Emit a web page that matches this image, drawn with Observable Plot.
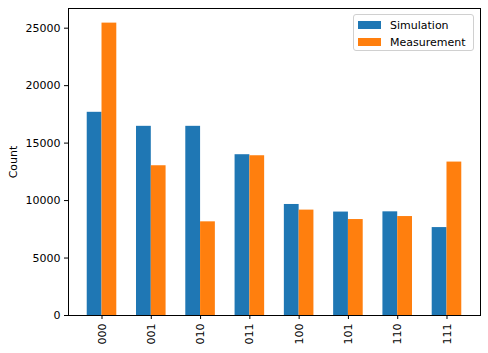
<!DOCTYPE html>
<html>
<head>
<meta charset="utf-8">
<script src="https://cdn.jsdelivr.net/npm/d3@7"></script>
<script src="https://cdn.jsdelivr.net/npm/@observablehq/plot@0.6"></script>
<style>
  html, body { margin: 0; padding: 0; background: #fff; }
  #wrap { position: relative; width: 488px; height: 353px; font-family: "DejaVu Sans", sans-serif; }
  #legend { position: absolute; left: 353px; top: 14px; width: 119px; height: 35px;
    border: 1px solid #d0d0d0; border-radius: 3px; background: rgba(255,255,255,0.8);
    font-size: 11px; color: #000; }
  .item { position: absolute; left: 4px; height: 12px; display: flex; align-items: center; }
  .patch { width: 23px; height: 8px; margin-right: 9px; }
</style>
</head>
<body>
<div id="wrap"></div>
<script>
const categories = ["000", "001", "010", "011", "100", "101", "110", "111"];
const simulation = [17680, 16460, 16460, 13990, 9660, 9000, 9020, 7650];
const measurement = [25440, 13030, 8150, 13900, 9170, 8350, 8610, 13350];
const series = ["Simulation", "Measurement"];
const colors = ["#1f77b4", "#ff7f0e"];
const yTicks = [0, 5000, 10000, 15000, 20000, 25000];

const barWidth = 0.3;
const rows = [];
categories.forEach((c, i) => {
  rows.push({cat: c, series: series[0], value: simulation[i], x1: i - barWidth, x2: i});
  rows.push({cat: c, series: series[1], value: measurement[i], x1: i, x2: i + barWidth});
});

const xMin = -barWidth, xMax = categories.length - 1 + barWidth;
const xPad = (xMax - xMin) * 0.05;
const yMax = d3.max(rows, d => d.value) * 1.05;

const chart = Plot.plot({
  width: 488,
  height: 353,
  marginLeft: 68,
  marginRight: 8,
  marginTop: 8,
  marginBottom: 38,
  style: {fontFamily: "DejaVu Sans, sans-serif", fontSize: "11px", color: "#000", background: "#fff"},
  x: {
    type: "linear",
    domain: [xMin - xPad, xMax + xPad],
    ticks: d3.range(categories.length),
    tickFormat: i => categories[i],
    tickRotate: -90,
    tickSize: 4,
    tickPadding: 4,
    label: null
  },
  y: {
    domain: [0, yMax],
    ticks: yTicks,
    tickFormat: d => String(d),
    tickSize: 4,
    tickPadding: 4,
    label: "Count",
    labelArrow: "none",
    labelAnchor: "center",
    labelOffset: 59
  },
  color: {domain: series, range: colors},
  marks: [
    Plot.rectY(rows, {x1: "x1", x2: "x2", y: "value", fill: "series"}),
    Plot.frame({stroke: "#000", strokeWidth: 1})
  ]
});

const wrap = document.getElementById("wrap");
wrap.appendChild(chart);

const legend = document.createElement("div");
legend.id = "legend";
series.forEach((s, k) => {
  const item = document.createElement("div");
  item.className = "item";
  item.style.top = (4 + k * 17) + "px";
  const patch = document.createElement("span");
  patch.className = "patch";
  patch.style.background = colors[k];
  const label = document.createElement("span");
  label.textContent = s;
  item.appendChild(patch);
  item.appendChild(label);
  legend.appendChild(item);
});
wrap.appendChild(legend);
</script>
</body>
</html>
